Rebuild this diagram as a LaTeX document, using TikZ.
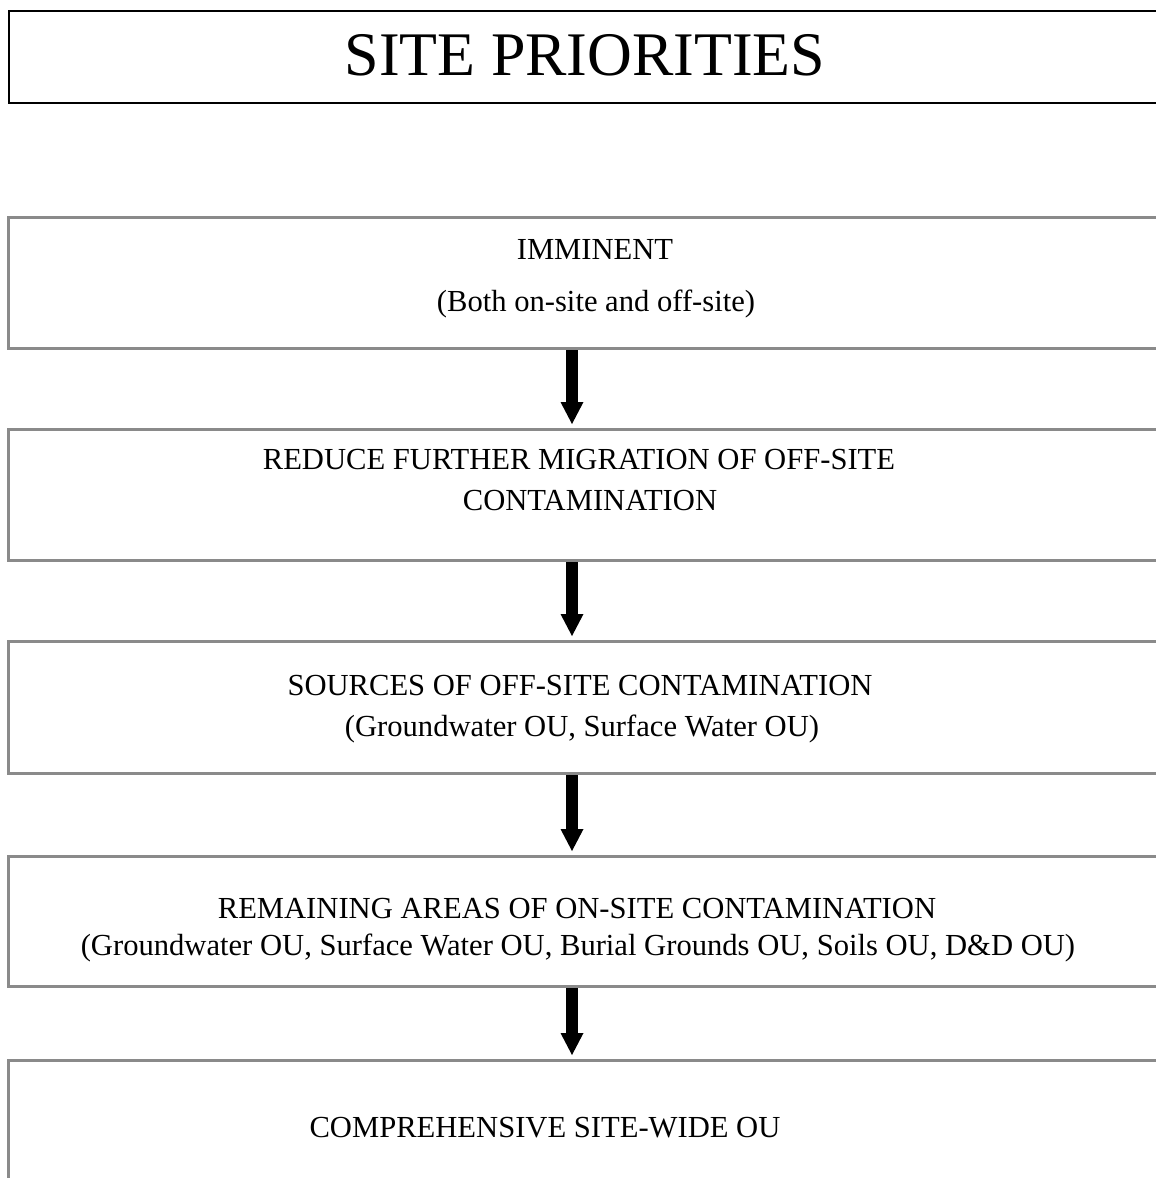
\documentclass[tikz,border=0pt]{standalone}
\usepackage{fontspec}
\setmainfont{Liberation Serif}
\usepackage{xcolor}
\usetikzlibrary{arrows.meta, positioning}
\definecolor{boxgray}{RGB}{138,138,138}
\tikzstyle{titlebox} = [rectangle, anchor=north west, draw=black, line width=1pt, minimum width=600pt, minimum height=46pt, inner sep=0pt]
\tikzstyle{stagebox} = [rectangle, anchor=north west, draw=boxgray, line width=1.5pt, minimum width=590pt, inner sep=0pt]
\tikzstyle{titletext} = [anchor=base, inner sep=0pt, font=\fontsize{31}{36}\selectfont]
\tikzstyle{stagetext} = [anchor=base, inner sep=0pt, font=\fontsize{15.3}{18}\selectfont]
\tikzstyle{flowarrow} = [line width=6pt, -{Triangle[length=11pt, width=11.5pt, line width=0pt]}, shorten >=2pt]

\begin{document}
\begin{tikzpicture}[x=0.5pt, y=-0.5pt]
        \useasboundingbox (0,0) rectangle (1156,1178);
        \coordinate (axis) at (572,0);

        \node (titleframe) [titlebox] at (8,10) {};
        \node (title) [titletext] at (585,75) {SITE PRIORITIES};

        \node (imminent) [stagebox, minimum height=65.5pt] at (7,216) {};
        \node (reduce) [stagebox, minimum height=65.5pt] at (7,428) {};
        \node (sources) [stagebox, minimum height=66pt] at (7,640) {};
        \node (remaining) [stagebox, minimum height=65pt] at (7,855) {};
        \node (sitewide) [stagebox, minimum height=100pt] at (7,1059) {};

        \node (imminenthead) [stagetext] at (595,259) {IMMINENT};
        \node (imminentsub) [stagetext] at (596,311) {(Both on-site and off-site)};
        \node (reducehead) [stagetext] at (579,469) {REDUCE FURTHER MIGRATION OF OFF-SITE};
        \node (reducesub) [stagetext] at (590,510) {CONTAMINATION};
        \node (sourceshead) [stagetext] at (580,695) {SOURCES OF OFF-SITE CONTAMINATION};
        \node (sourcessub) [stagetext] at (582,736) {(Groundwater OU, Surface Water OU)};
        \node (remaininghead) [stagetext] at (577,918) {REMAINING AREAS OF ON-SITE CONTAMINATION};
        \node (remainingsub) [stagetext] at (578,955) {(Groundwater OU, Surface Water OU, Burial Grounds OU, Soils OU, D\&D OU)};
        \node (sitewidehead) [stagetext] at (545,1137) {COMPREHENSIVE SITE-WIDE OU};

        \draw [flowarrow] (imminent.south -| axis) -- (reduce.north -| axis);
        \draw [flowarrow] (reduce.south -| axis) -- (sources.north -| axis);
        \draw [flowarrow] (sources.south -| axis) -- (remaining.north -| axis);
        \draw [flowarrow] (remaining.south -| axis) -- (sitewide.north -| axis);
    \end{tikzpicture}
\end{document}
